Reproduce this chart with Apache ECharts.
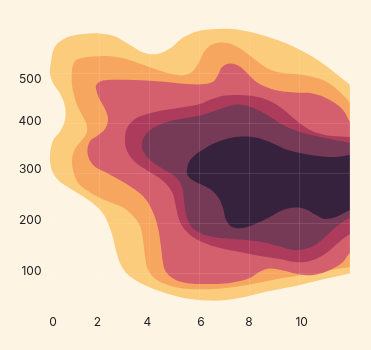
<!DOCTYPE html>
<html><head><meta charset="utf-8">
<script src="https://cdn.jsdelivr.net/npm/echarts@6/dist/echarts.min.js"></script>
<style>html,body{margin:0;padding:0;background:#FDF4E4;}#c{width:371px;height:350px;}</style>
</head><body><div id="c"></div>
<script>
// Tick labels
const xTicks = [0, 2, 4, 6, 8, 10];
const yTicks = [100, 200, 300, 400, 500];
// Density band outlines (data units: x, y), outermost to innermost
const band1 = [[0.05,519],[0.22,553],[0.69,571],[1.35,578],[2.02,579],[2.62,573],[3.22,556],[3.75,541],[4.29,538],[4.82,549],[5.29,569],[5.89,583],[6.69,588],[7.62,586],[8.69,573],[9.75,553],[10.82,523],[12.02,476],[12.6,452],[12.6,106],[12.02,99],[10.82,86],[9.75,73],[8.69,63],[7.89,53],[7.09,46],[6.29,45],[5.49,49],[4.69,59],[3.89,74],[3.22,93],[2.89,113],[2.69,139],[2.49,179],[2.22,213],[1.89,233],[1.35,253],[0.82,269],[0.35,286],[0.09,306],[0.02,336],[0.15,366],[0.42,383],[0.62,406],[0.62,433],[0.42,459],[0.15,479],[0.02,499]];
const band2 = [[0.90,506],[1.02,524],[1.30,530],[1.74,533],[2.30,534],[2.90,530],[3.54,520],[4.22,508],[4.90,498],[5.42,496],[5.74,504],[5.98,522],[6.18,542],[6.46,556],[6.82,561],[7.22,559],[7.62,549],[8.14,530],[8.70,510],[9.22,501],[10.02,497],[10.54,492],[11.10,482],[11.62,462],[12.02,440],[12.5,410],[12.5,114],[12.02,112],[11.22,106],[10.54,102],[9.86,94],[9.22,89],[8.54,82],[7.90,76],[7.22,71],[6.54,68],[5.62,68],[4.94,73],[4.30,86],[3.94,106],[3.82,134],[3.74,166],[3.62,194],[3.34,214],[2.98,230],[2.50,240],[2.02,250],[1.54,264],[1.18,278],[0.98,298],[0.90,326],[1.02,348],[1.30,366],[1.50,382],[1.46,400],[1.26,420],[1.10,436],[0.98,456],[0.90,476]];
const band3 = [[1.86,474],[1.98,482],[2.30,486],[3.34,486],[4.42,483],[5.50,478],[6.22,478],[6.58,484],[6.76,498],[6.90,512],[7.22,519],[7.58,514],[7.94,498],[8.34,480],[9.02,466],[9.82,461],[10.54,459],[11.22,446],[11.74,426],[12.02,402],[12.42,378],[12.42,146],[12.02,140],[11.74,122],[11.22,106],[10.54,96],[9.90,98],[9.34,105],[8.82,109],[8.42,103],[8.02,90],[7.22,80],[6.54,78],[6.02,78],[5.46,80],[4.98,88],[4.66,102],[4.54,120],[4.46,152],[4.34,190],[4.10,226],[3.74,254],[3.26,272],[2.74,288],[2.22,302],[1.74,316],[1.52,340],[1.62,364],[1.90,374],[2.22,388],[2.34,408],[2.22,428],[1.98,450],[1.86,468]];
const band4 = [[3.10,390],[3.42,408],[3.90,418],[4.62,426],[5.42,432],[6.02,438],[6.50,448],[7.02,455],[7.62,456],[8.22,453],[8.82,444],[9.38,426],[9.90,404],[10.42,386],[11.02,376],[11.62,373],[12.02,372],[12.42,371],[12.42,182],[12.02,178],[11.54,160],[11.02,138],[10.42,124],[9.82,122],[9.22,128],[8.42,134],[7.62,142],[6.82,150],[6.10,162],[5.58,178],[5.22,202],[5.06,232],[4.90,262],[4.50,286],[3.94,304],[3.42,322],[3.10,344],[3.02,366]];
const band5 = [[3.70,360],[3.86,378],[4.22,392],[4.70,402],[5.22,408],[5.82,413],[6.54,423],[7.06,432],[7.46,437],[7.94,434],[8.42,424],[8.90,410],[9.42,394],[10.02,382],[10.82,372],[11.62,364],[12.02,360],[12.42,358],[12.42,210],[12.02,210],[11.50,194],[11.02,172],[10.62,156],[10.22,148],[9.74,146],[9.14,154],[8.50,162],[7.86,166],[7.14,169],[6.54,172],[6.02,180],[5.66,194],[5.46,218],[5.38,246],[5.30,272],[5.06,292],[4.54,308],[4.02,326],[3.74,344]];
const band6 = [[5.50,306],[5.58,322],[5.82,336],[6.18,348],[6.62,360],[7.14,369],[7.70,373],[8.34,370],[8.90,360],[9.42,348],[10.02,340],[10.74,334],[11.42,332],[12.02,336],[12.42,338],[12.42,232],[12.02,226],[11.50,213],[11.02,208],[10.66,216],[10.22,228],[9.82,231],[9.34,226],[8.74,210],[8.22,198],[7.74,190],[7.30,192],[7.06,206],[6.94,230],[6.74,252],[6.42,268],[5.98,279],[5.66,288],[5.50,298]];
const bands = [band1, band2, band3, band4, band5, band6];
const bandColors = ['#FBCC7B', '#F7A660', '#D4606D', '#AD3B5C', '#763A57', '#36223D'];

// label nudges (pixels) to match reference placement
const xNudge = [3.5, -2.2, -2.2, 1.5, -0.5, 2.2];
const yNudge = [-2, -3, -4, -2, 6];

const xRich = {}, yRich = {};
xTicks.forEach((t, i) => {
  const d = xNudge[i];
  xRich['x' + i] = {padding: [0, d < 0 ? -2 * d : 0, 0, d > 0 ? 2 * d : 0], fontFamily: 'Inter', fontSize: 12, color: '#222'};
});
yTicks.forEach((t, i) => {
  const d = yNudge[i];
  yRich['y' + i] = {padding: [d > 0 ? 2 * d : 0, 0, d < 0 ? -2 * d : 0, 0], fontFamily: 'Inter', fontSize: 12, color: '#222'};
});

const chart = echarts.init(document.getElementById('c'), null, {renderer: 'canvas'});
const series = bands.map((poly, i) => ({
  type: 'custom',
  coordinateSystem: 'cartesian2d',
  clip: true,
  silent: true,
  z: 2 + i,
  data: [[poly[0][0], poly[0][1]]],
  renderItem: function (params, api) {
    const pts = poly.map(p => api.coord(p));
    return {type: 'polygon', shape: {points: pts, smooth: 0.35}, style: {fill: bandColors[i]}};
  }
}));
chart.setOption({
  backgroundColor: '#FDF4E4',
  animation: false,
  grid: {left: 49.5, right: 21.5, top: 23, bottom: 27, containLabel: false},
  xAxis: {
    type: 'value', min: 0, max: 12, interval: 2, z: 20,
    axisLine: {show: false}, axisTick: {show: false},
    splitLine: {show: true, lineStyle: {color: 'rgba(255,255,255,0.1)', width: 1}},
    axisLabel: {margin: -7, color: '#222', fontFamily: 'Inter', fontSize: 12, rich: xRich,
      formatter: v => { const i = xTicks.indexOf(v); return i >= 0 ? '{x' + i + '|' + v + '}' : ''; }}
  },
  yAxis: {
    type: 'value', min: 0, max: 600, interval: 100, z: 20,
    axisLine: {show: false}, axisTick: {show: false},
    splitLine: {show: true, lineStyle: {color: 'rgba(255,255,255,0.1)', width: 1}},
    axisLabel: {margin: 8, color: '#222', fontFamily: 'Inter', fontSize: 12, rich: yRich,
      formatter: v => { const i = yTicks.indexOf(v); return i >= 0 ? '{y' + i + '|' + v + '}' : ''; }}
  },
  series: series
});
</script></body></html>
